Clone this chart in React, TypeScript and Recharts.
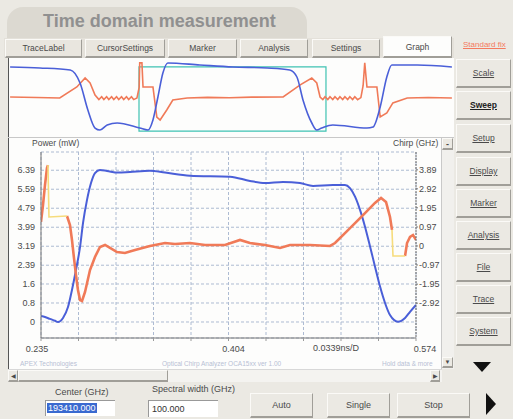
import React from "react";
import { LineChart, Line, XAxis, YAxis, CartesianGrid, ReferenceArea } from "recharts";

// ── main view: 0.235 – 0.574 ns ──────────────────────────────────────────
const POWER_T = [0.235, 0.2386, 0.2431, 0.2477, 0.2504, 0.2549, 0.2594, 0.263, 0.2666, 0.2703, 0.273, 0.2766, 0.2802, 0.2838, 0.2883, 0.2947, 0.3046, 0.3155, 0.3335, 0.3471, 0.3697, 0.4059, 0.4239, 0.4375, 0.4538, 0.4691, 0.4809, 0.499, 0.5098, 0.5143, 0.5189, 0.5234, 0.5279, 0.5324, 0.5369, 0.5415, 0.546, 0.5505, 0.5577, 0.5641, 0.5686, 0.574];
const POWER_MW = [0.25, 0.21, 0.13, 0.05, 0.0, 0.17, 0.63, 1.35, 2.19, 3.16, 4.17, 5.14, 5.85, 6.27, 6.4, 6.36, 6.29, 6.32, 6.37, 6.29, 6.16, 6.12, 5.94, 5.85, 5.9, 5.85, 5.73, 5.77, 5.77, 5.64, 5.28, 4.72, 4.01, 3.19, 2.34, 1.49, 0.8, 0.29, 0.01, 0.17, 0.43, 0.72];

const CHIRP_T = [0.235, 0.2368, 0.2386, 0.2404, 0.2413, 0.25, 0.2585, 0.2612, 0.263, 0.2648, 0.2666, 0.2684, 0.2703, 0.2721, 0.2748, 0.2793, 0.2838, 0.2883, 0.2929, 0.2974, 0.3037, 0.3109, 0.32, 0.3335, 0.3471, 0.3561, 0.3697, 0.3833, 0.4013, 0.4149, 0.4239, 0.4375, 0.4511, 0.4601, 0.4782, 0.4963, 0.5008, 0.5098, 0.5189, 0.5279, 0.5369, 0.5424, 0.5469, 0.5505, 0.5523, 0.558, 0.5641, 0.5659, 0.5686, 0.5713, 0.574];
const CHIRP_GHZ = [1.23, 2.09, 3.11, 3.98, 4.13, null, 1.53, 1.07, 0.31, -0.61, -1.48, -2.25, -2.76, -2.81, -2.35, -1.23, -0.56, -0.05, 0.05, -0.1, -0.31, -0.36, -0.2, 0, 0.15, 0.1, 0.15, 0.05, 0.05, 0.31, 0.15, 0.05, -0.1, 0.05, 0.05, 0, 0.15, 0.66, 1.17, 1.68, 2.2, 2.45, 2.25, 1.48, 0.82, null, -0.51, 0.15, 0.46, 0.56, 0.31];

// low-power parts of the chirp trace (drawn yellow)
const MASK_T = [0.2413, 0.2422, 0.2585, 0.4, 0.5523, 0.5532, 0.5641];
const MASK_GHZ = [4.13, 1.48, 1.53, null, 0.82, -0.51, -0.51];

const MW_TICKS = [0, 0.8, 1.6, 2.39, 3.19, 3.99, 4.79, 5.59, 6.39];
const GHZ_TICKS = [-2.92, -1.95, -0.97, 0, 0.97, 1.95, 2.92, 3.89];
const X_TICKS = [0.235, 0.2689, 0.3028, 0.3367, 0.3706, 0.4045, 0.4384, 0.4723, 0.5062, 0.5401, 0.574];
const X_LABELS: Record<number, string> = { 0: "0.235", 5: "0.404", 10: "0.574" };

// ── overview: whole record 0 – 0.8 ns ────────────────────────────────────
const OV_POWER_T = [0.002, 0.056, 0.111, 0.129, 0.143, 0.156, 0.165, 0.178, 0.196, 0.237, 0.252, 0.261, 0.27, 0.279, 0.288, 0.346, 0.406, 0.468, 0.509, 0.522, 0.533, 0.549, 0.558, 0.567, 0.587, 0.649, 0.66, 0.673, 0.685, 0.694, 0.74, 0.803];
const OV_POWER_MW = [6.02, 5.92, 5.73, 4.46, 1.91, 0.19, 0, 0.48, 0.67, 0.19, 0, 0.96, 3.15, 5.44, 6.4, 6.21, 6.02, 5.92, 5.73, 5.06, 2.87, 0.67, 0, 0.19, 0.48, 0.19, 0.29, 2.2, 5.06, 6.21, 6.21, 6.02];
const OV_CHIRP_T = [0.002, 0.05, 0.092, 0.123, 0.138, 0.147, 0.156, 0.163, 0.168, 0.172, 0.177, 0.181, 0.186, 0.19, 0.195, 0.199, 0.204, 0.208, 0.213, 0.217, 0.222, 0.226, 0.232, 0.236, 0.237, 0.241, 0.243, 0.261, 0.268, 0.274, 0.286, 0.297, 0.323, 0.36, 0.4, 0.44, 0.497, 0.528, 0.549, 0.558, 0.564, 0.569, 0.573, 0.578, 0.582, 0.587, 0.591, 0.596, 0.6, 0.605, 0.609, 0.614, 0.618, 0.623, 0.627, 0.632, 0.638, 0.642, 0.645, 0.649, 0.667, 0.673, 0.685, 0.696, 0.722, 0.76, 0.803];
const OV_CHIRP_GHZ = [0.12, 0.05, 0, 1.35, 2.45, 1.84, 0.37, -0.2, 0.15, -0.2, 0.15, -0.2, 0.15, -0.2, 0.15, -0.2, 0.15, -0.2, 0.15, -0.2, 0.15, -0.2, 0, 1.3, 4.3, 4.3, 1.35, 1.35, -2.33, -2.7, -1.47, -0.25, 0, 0.08, 0.02, 0.1, 0.12, 1.6, 2.45, 1.84, 0.12, -0.2, 0.15, -0.2, 0.15, -0.2, 0.15, -0.2, 0.15, -0.2, 0.15, -0.2, 0.15, -0.2, 0.15, -0.2, 0.05, 1.5, 4.3, 1.35, 1.35, -2.33, -1.84, -0.61, 0, 0.05, 0];

const TABS = ["TraceLabel", "CursorSettings", "Marker", "Analysis", "Settings", "Graph"];
const SIDE = ["Scale", "Sweep", "Setup", "Display", "Marker", "Analysis", "File", "Trace", "System"];

const zip = (t: number[], v: (number | null)[]) => t.map((x, i) => ({ t: x, v: v[i] }));
const power = zip(POWER_T, POWER_MW);
const chirp = zip(CHIRP_T, CHIRP_GHZ);
const mask = zip(MASK_T, MASK_GHZ);
const ovPower = zip(OV_POWER_T, OV_POWER_MW);
const ovChirp = zip(OV_CHIRP_T, OV_CHIRP_GHZ);

const BLUE = "#4a5fd8";
const ORANGE = "#f07a58";
const YELLOW = "#f6dc7c";
const UI_FONT = "'Liberation Sans', Arial, sans-serif";
const TXT = "#4a4a4a";

const raised: React.CSSProperties = {
  position: "absolute",
  background: "#ebe9e3",
  borderTop: "1px solid #fbfaf7",
  borderLeft: "1px solid #fbfaf7",
  borderRight: "1px solid #a09e98",
  borderBottom: "2px solid #a09e98",
  boxSizing: "border-box",
  display: "flex",
  alignItems: "center",
  justifyContent: "center",
  fontSize: 9,
  color: TXT,
};

function XTick(props: any) {
  const { x, y, index } = props;
  const label = X_LABELS[index];
  if (!label) return null;
  const dx = index === 0 ? -4 : index === 5 ? 5 : 9;
  return (
    <text x={x + dx} y={y} dy="0.71em" textAnchor="middle" fontSize={9} fill={TXT} fontFamily={UI_FONT}>
      {label}
    </text>
  );
}

function Overview() {
  return (
    <LineChart width={446} height={80} margin={{ top: 4, right: 1, bottom: 2, left: 1 }}>
      <XAxis xAxisId="ov" dataKey="t" type="number" domain={[0, 0.805]} hide />
      <YAxis yAxisId="ovmw" type="number" domain={[-0.57, 6.49]} hide />
      <YAxis yAxisId="ovghz" orientation="right" type="number" domain={[-4.66, 4.41]} hide />
      <Line xAxisId="ov" yAxisId="ovghz" data={ovChirp} dataKey="v" type="linear" stroke={ORANGE} strokeWidth={1.6} dot={false} isAnimationActive={false} />
      <Line xAxisId="ov" yAxisId="ovmw" data={ovPower} dataKey="v" type="monotone" stroke={BLUE} strokeWidth={1.6} dot={false} isAnimationActive={false} />
      <ReferenceArea xAxisId="ov" yAxisId="ovmw" x1={0.2357} x2={0.5747} y1={-0.1} y2={6.02} fill="none" fillOpacity={0} stroke="#3fc2b2" strokeWidth={1.2} />
    </LineChart>
  );
}

function MainChart() {
  return (
    <LineChart width={455} height={225} margin={{ top: 14, right: 9, bottom: 7, left: 8 }}>
      <CartesianGrid xAxisId="ns" yAxisId="mw" stroke="#adbbd2" strokeDasharray="3 2" />
      <XAxis xAxisId="ns" dataKey="t" type="number" domain={[0.235, 0.574]} ticks={X_TICKS} tick={<XTick />} interval={0} tickSize={3} tickMargin={5} tickLine={{ stroke: "#999" }} axisLine={{ stroke: "#777" }} height={18} allowDataOverflow />
      <XAxis xAxisId="top" orientation="top" type="number" domain={[0.235, 0.574]} tick={false} tickLine={false} axisLine={{ stroke: "#777" }} height={0} />
      <YAxis yAxisId="mw" type="number" domain={[-0.674, 7.158]} ticks={MW_TICKS} interval={0} tickFormatter={(v) => String(v)} width={33} tickSize={0} tickMargin={6} tickLine={false} axisLine={{ stroke: "#777" }} tick={{ fontSize: 9, fill: TXT, fontFamily: UI_FONT }} allowDataOverflow />
      <YAxis yAxisId="ghz" orientation="right" type="number" domain={[-4.7, 4.8]} ticks={GHZ_TICKS} interval={0} tickFormatter={(v) => String(v)} width={30} tickSize={2} tickMargin={1} tickLine={{ stroke: "#777" }} axisLine={{ stroke: "#666", strokeDasharray: "2 1" }} tick={{ fontSize: 9, fill: TXT, fontFamily: UI_FONT }} allowDataOverflow />
      <Line xAxisId="ns" yAxisId="mw" data={power} dataKey="v" type="monotone" stroke={BLUE} strokeWidth={2} dot={false} isAnimationActive={false} />
      <Line xAxisId="ns" yAxisId="ghz" data={chirp} dataKey="v" type="linear" stroke={ORANGE} strokeWidth={2.6} dot={false} connectNulls={false} isAnimationActive={false} />
      <Line xAxisId="ns" yAxisId="ghz" data={mask} dataKey="v" type="linear" stroke={YELLOW} strokeWidth={1.6} dot={false} connectNulls={false} isAnimationActive={false} />
    </LineChart>
  );
}

export default function App() {
  const tabX = [[5, 82], [85, 165], [168, 237], [240, 308], [312, 380], [383, 452]];
  const sideY = [73, 105, 138, 171, 203, 235, 267, 299, 331];
  return (
    <div style={{ position: "absolute", left: 0, top: 0, width: 513, height: 419, background: "#ebe9e3", overflow: "hidden", fontFamily: UI_FONT }}>
      {/* title tab */}
      <div style={{ position: "absolute", left: 7, top: 7, width: 300, height: 34, background: "#dcd9d1", borderRadius: "16px 16px 0 0" }}>
        <div style={{ position: "absolute", left: 36, top: 4, fontSize: 18, fontWeight: "bold", color: "#909090", whiteSpace: "nowrap" }}>Time domain measurement</div>
      </div>

      {/* tabs */}
      <div style={{ position: "absolute", left: 4, top: 38, width: 450, height: 20, background: "#e4e1da" }} />
      {TABS.map((t, i) => (
        <div key={t} style={{ ...raised, left: tabX[i][0], top: i === 5 ? 36 : 39, width: tabX[i][1] - tabX[i][0], height: i === 5 ? 22 : 19, background: i === 5 ? "#fdfdfc" : "#e9e6df", fontSize: 8.5 }}>
          {t}
        </div>
      ))}
      <div style={{ position: "absolute", left: 463, top: 40, fontSize: 8, color: "#f47a5e", textDecoration: "underline", whiteSpace: "nowrap" }}>Standard fix</div>

      {/* graph panel */}
      <div style={{ position: "absolute", left: 8, top: 58, width: 446, height: 311, background: "#fdfdfc", borderLeft: "1px solid #555", boxSizing: "border-box" }} />
      <div style={{ position: "absolute", left: 8, top: 137, width: 446, height: 1, background: "#c8c8c8" }} />
      <div style={{ position: "absolute", left: 8, top: 58 }}>
        <Overview />
      </div>

      <div style={{ position: "absolute", left: 32, top: 138, fontSize: 8.5, color: TXT }}>Power (mW)</div>
      <div style={{ position: "absolute", left: 393, top: 138, fontSize: 8.5, color: TXT }}>Chirp (GHz)</div>

      {/* vertical scroll strip */}
      <div style={{ position: "absolute", left: 441, top: 138, width: 13, height: 231, background: "#f1f0ed", borderLeft: "1px solid #c9c9c9", boxSizing: "border-box" }} />
      <div style={{ ...raised, left: 442, top: 138, width: 11, height: 12, fontSize: 9, fontWeight: "bold" }}>-</div>
      <div style={{ ...raised, left: 442, top: 357, width: 11, height: 11, fontSize: 6 }}>▼</div>

      <div style={{ position: "absolute", left: 0, top: 138 }}>
        <MainChart />
      </div>
      <div style={{ position: "absolute", left: 313, top: 343, fontSize: 9, color: TXT }}>0.0339ns/D</div>

      {/* faint footer of graph */}
      <div style={{ position: "absolute", left: 20, top: 360, fontSize: 6.5, color: "#b7c0d4" }}>APEX Technologies</div>
      <div style={{ position: "absolute", left: 162, top: 360, fontSize: 6.5, color: "#b7c0d4" }}>Optical Chirp Analyzer OCA15xx ver 1.00</div>
      <div style={{ position: "absolute", left: 382, top: 360, fontSize: 6.5, color: "#b7c0d4" }}>Hold data &amp; more</div>

      {/* horizontal scrollbar */}
      <div style={{ position: "absolute", left: 8, top: 369, width: 434, height: 13, background: "#f4f3f0", borderTop: "1px solid #d8d8d8", boxSizing: "border-box" }} />
      <div style={{ ...raised, left: 8, top: 370, width: 10, height: 12, fontSize: 6 }}>◀</div>
      <div style={{ ...raised, left: 18, top: 370, width: 150, height: 12, background: "#efeeea" }} />
      <div style={{ ...raised, left: 430, top: 370, width: 10, height: 12, fontSize: 6 }}>▶</div>

      {/* side buttons */}
      {SIDE.map((s, i) => (
        <div key={s} style={{ ...raised, left: 456, top: sideY[i] - 14, width: 55, height: 29, textDecoration: "underline", fontSize: 8.5, fontWeight: s === "Sweep" ? "bold" : "normal", color: s === "Sweep" ? "#222" : TXT }}>
          {s}
        </div>
      ))}
      <div style={{ position: "absolute", left: 473, top: 362, width: 0, height: 0, borderLeft: "9px solid transparent", borderRight: "9px solid transparent", borderTop: "10px solid #111" }} />
      <div style={{ position: "absolute", left: 486, top: 393, width: 0, height: 0, borderTop: "11px solid transparent", borderBottom: "11px solid transparent", borderLeft: "10px solid #111" }} />

      {/* bottom controls */}
      <div style={{ position: "absolute", left: 55, top: 387, fontSize: 9, color: TXT }}>Center (GHz)</div>
      <div style={{ position: "absolute", left: 45, top: 400, width: 70, height: 16, background: "#fff", borderTop: "1px solid #999", borderLeft: "1px solid #999", boxSizing: "border-box" }}>
        <span style={{ position: "absolute", left: 1, top: 2, background: "#3a6ad0", color: "#fff", fontSize: 9, padding: "0 1px" }}>193410.000</span>
      </div>
      <div style={{ position: "absolute", left: 152, top: 384, fontSize: 9, color: TXT }}>Spectral width (GHz)</div>
      <div style={{ position: "absolute", left: 148, top: 400, width: 70, height: 17, background: "#fff", borderTop: "1px solid #999", borderLeft: "1px solid #999", boxSizing: "border-box" }}>
        <span style={{ position: "absolute", left: 3, top: 3, color: "#333", fontSize: 9 }}>100.000</span>
      </div>
      <div style={{ ...raised, left: 250, top: 393, width: 63, height: 25 }}>Auto</div>
      <div style={{ ...raised, left: 327, top: 393, width: 63, height: 25 }}>Single</div>
      <div style={{ ...raised, left: 397, top: 393, width: 73, height: 25 }}>Stop</div>
    </div>
  );
}
